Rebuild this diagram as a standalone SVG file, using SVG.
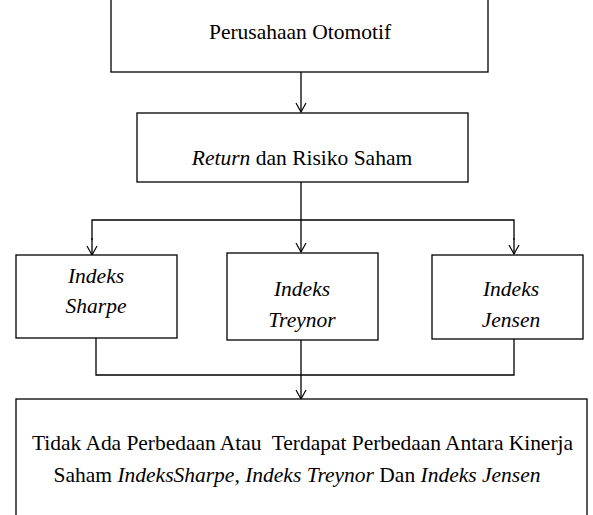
<svg xmlns="http://www.w3.org/2000/svg" width="593" height="515" viewBox="0 0 593 515">
<defs>
<marker id="arr" markerWidth="12" markerHeight="12" refX="11" refY="6" orient="auto" markerUnits="userSpaceOnUse" viewBox="0 0 12 12">
<path d="M2,1 L11,6 L2,11" fill="none" stroke="#000" stroke-width="1.2"/>
</marker>
<style>
.box{fill:#fff;stroke:#000;stroke-width:1.3}
.t{font-family:"Liberation Serif","Times New Roman",serif;font-size:21.5px;fill:#000;text-anchor:middle}
.i{font-style:italic}
.c{fill:none;stroke:#000;stroke-width:1.3}
</style>
</defs>
<rect width="593" height="515" fill="#fff"/>
<g id="connectors">
<line class="c" x1="301" y1="72" x2="301" y2="112" marker-end="url(#arr)"/>
<line class="c" x1="301" y1="182" x2="301" y2="252" marker-end="url(#arr)"/>
<polyline class="c" points="92,240 92,220 514,220 514,240"/>
<line class="c" x1="92" y1="238" x2="92" y2="255" marker-end="url(#arr)"/>
<line class="c" x1="514" y1="238" x2="514" y2="254" marker-end="url(#arr)"/>
<polyline class="c" points="96,338 96,375 514,375 514,338"/>
<line class="c" x1="301" y1="340" x2="301" y2="399" marker-end="url(#arr)"/>
</g>
<g id="n1">
<rect class="box" x="111" y="-5" width="377" height="77"/>
<text class="t" x="300" y="39">Perusahaan Otomotif</text>
</g>
<g id="n2">
<rect class="box" x="137" y="113" width="331" height="69"/>
<text class="t" x="302" y="165"><tspan class="i">Return</tspan> dan Risiko Saham</text>
</g>
<g id="n3">
<rect class="box" x="16" y="255" width="161" height="83"/>
<text class="t i" x="96" y="283">Indeks</text>
<text class="t i" x="96" y="313">Sharpe</text>
</g>
<g id="n4">
<rect class="box" x="227" y="253" width="151" height="87"/>
<text class="t i" x="302" y="296">Indeks</text>
<text class="t i" x="302" y="327">Treynor</text>
</g>
<g id="n5">
<rect class="box" x="432" y="255" width="151" height="84"/>
<text class="t i" x="511" y="296">Indeks</text>
<text class="t i" x="511" y="327">Jensen</text>
</g>
<g id="n6">
<rect class="box" x="16" y="399" width="571" height="130"/>
<text class="t" x="302.5" y="450" xml:space="preserve" textLength="541" lengthAdjust="spacing">Tidak Ada Perbedaan Atau  Terdapat Perbedaan Antara Kinerja</text>
<text class="t" x="297" y="482">Saham <tspan class="i">IndeksSharpe, Indeks Treynor</tspan> Dan <tspan class="i">Indeks Jensen</tspan></text>
</g>
</svg>
